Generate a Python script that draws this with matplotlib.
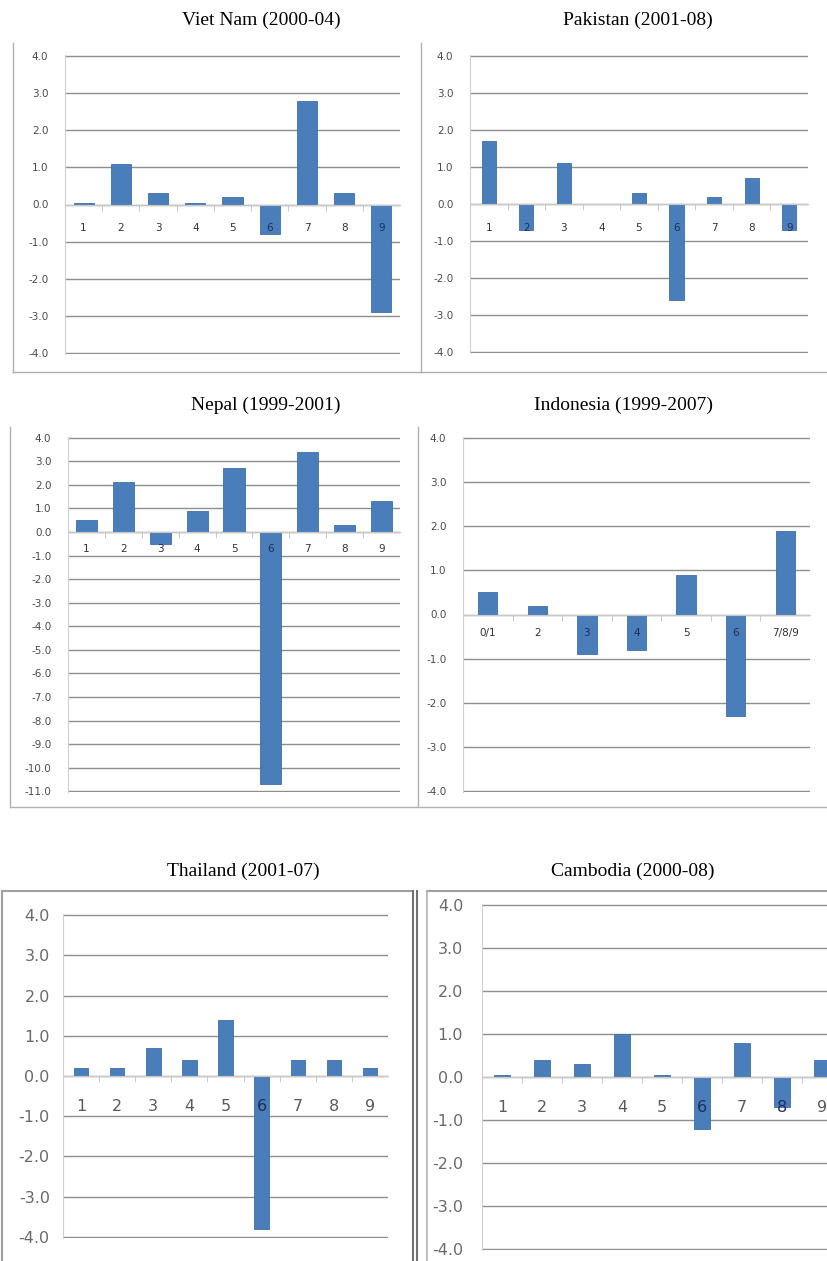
import numpy as np
import matplotlib
matplotlib.use("Agg")
import matplotlib.pyplot as plt
from matplotlib.lines import Line2D
from matplotlib.ticker import FormatStrFormatter

plt.rcParams["axes.unicode_minus"] = False

W, H = 827, 1261

cats9 = ["1", "2", "3", "4", "5", "6", "7", "8", "9"]
cats_indo = ["0/1", "2", "3", "4", "5", "6", "7/8/9"]

vietnam = [0.05, 1.1, 0.3, 0.05, 0.2, -0.8, 2.8, 0.3, -2.9]
pakistan = [1.7, -0.7, 1.1, 0.0, 0.3, -2.6, 0.2, 0.7, -0.7]
nepal = [0.5, 2.1, -0.5, 0.9, 2.7, -10.7, 3.4, 0.3, 1.3]
indonesia = [0.5, 0.2, -0.9, -0.8, 0.9, -2.3, 1.9]
thailand = [0.2, 0.2, 0.7, 0.4, 1.4, -3.8, 0.4, 0.4, 0.2]
cambodia = [0.05, 0.4, 0.3, 1.0, 0.05, -1.2, 0.8, -0.7, 0.4]

titles = ["Viet Nam (2000-04)", "Pakistan (2001-08)", "Nepal (1999-2001)",
          "Indonesia (1999-2007)", "Thailand (2001-07)", "Cambodia (2000-08)"]

BLUE = "#4A7EBB"


def px_box(l, t, r, b):
    return [l / W, 1 - b / H, (r - l) / W, (b - t) / H]


def fig_line(fig, x0, y0, x1, y1, color="#b0b0b0", lw=1.0):
    fig.add_artist(Line2D([x0 / W, x1 / W], [1 - y0 / H, 1 - y1 / H],
                          color=color, lw=lw, transform=fig.transFigure))


def panel(fig, rect, cats, vals, ymin, bar_w, xpad, ypad, big=False):
    ax = fig.add_axes(px_box(*rect))
    x = np.arange(len(cats))
    ax.bar(x, vals, width=bar_w, color=BLUE, edgecolor="#3f6fa8", lw=0.6, zorder=2)
    ax.set_xlim(-0.5, len(cats) - 0.5)
    ax.set_ylim(ymin - 0.03, 4.03)
    ax.set_yticks(np.arange(ymin, 4.01, 1.0))
    ax.yaxis.set_major_formatter(FormatStrFormatter("%.1f"))
    ax.set_axisbelow(True)
    ax.yaxis.grid(True, color="#8e8e8e", lw=1.0)
    for s in ["top", "right"]:
        ax.spines[s].set_visible(False)
    ax.spines["left"].set_color("#d0d0d0")
    ax.spines["bottom"].set_position(("data", 0))
    ax.spines["bottom"].set_color("#c8c8c8")
    ax.set_xticks(x)
    ax.set_xticks(x[:-1] + 0.5, minor=True)
    ax.tick_params(axis="x", which="minor", length=4, color="#c0c0c0", direction="out")
    if big:
        ax.set_xticklabels(cats, fontsize=11.5, color="#5a5a5a")
        ax.tick_params(axis="y", labelsize=11.5, labelcolor="#6a6a6a")
    else:
        ax.set_xticklabels(cats, fontsize=7.5, color="#333333")
        ax.tick_params(axis="y", labelsize=7.5, labelcolor="#4a4a4a")
    ax.tick_params(axis="x", which="major", length=0, pad=xpad)
    ax.tick_params(axis="y", length=0, pad=ypad)
    for lab, v in zip(ax.get_xticklabels(), vals):
        if v < -0.4:
            lab.set_color("#1b2f57")
    ax.xaxis.set_zorder(3)
    ax.patch.set_alpha(0)
    return ax


fig = plt.figure(figsize=(W / 100, H / 100), dpi=100)

panel(fig, (65, 55, 400, 354), cats9, vietnam, -4, 0.54, 13.5, 12)
panel(fig, (470, 55, 808, 353), cats9, pakistan, -4, 0.38, 13.5, 12)
panel(fig, (68, 437, 400, 792), cats9, nepal, -11, 0.57, 8.5, 12)
panel(fig, (463, 437, 810, 792), cats_indo, indonesia, -4, 0.39, 10, 12)
panel(fig, (63, 914, 388, 1238), cats9, thailand, -4, 0.40, 16.5, 9.5, big=True)
panel(fig, (482, 904, 842, 1250), cats9, cambodia, -4, 0.39, 16.5, 13.5, big=True)

title_pos = [(261, 20), (638, 20), (266, 405), (623, 405), (243, 871), (633, 871)]
for t, (tx, ty) in zip(titles, title_pos):
    fig.text(tx / W, 1 - ty / H, t, ha="center", va="center",
             family="Liberation Serif", fontsize=14)

# chart frames
fig_line(fig, 13, 43, 13, 372)
fig_line(fig, 421, 43, 421, 372)
fig_line(fig, 13, 372, 827, 372)
fig_line(fig, 10, 427, 10, 807)
fig_line(fig, 418, 427, 418, 807)
fig_line(fig, 10, 807, 827, 807)
fig_line(fig, 2, 891, 413, 891, color="#a0a0a0", lw=1.5)
fig_line(fig, 2, 891, 2, 1261, color="#a0a0a0", lw=1.5)
fig_line(fig, 413, 891, 413, 1261, color="#707070", lw=1.5)
fig_line(fig, 417, 891, 417, 1261, color="#707070", lw=1.5)
fig_line(fig, 427, 891, 827, 891, color="#a0a0a0", lw=1.5)
fig_line(fig, 427, 891, 427, 1261, color="#b0b0b0", lw=1.2)

fig.savefig("out.png", dpi=100)
